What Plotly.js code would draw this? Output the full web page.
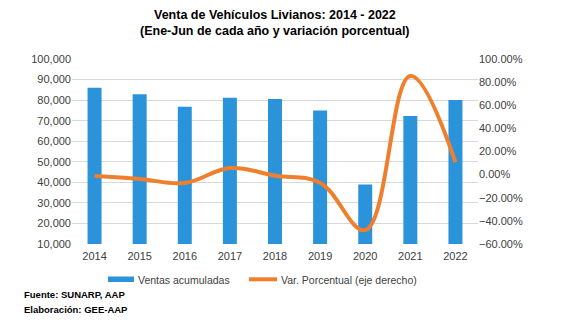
<!DOCTYPE html>
<html><head><meta charset="utf-8">
<script src="https://cdn.plot.ly/plotly-3.0.1.min.js"></script>
<style>html,body{margin:0;padding:0;background:#fff}#c{width:567px;height:325px}</style>
</head><body><div id="c"></div>
<script>
const years = ['2014','2015','2016','2017','2018','2019','2020','2021','2022'];
const ventas = [86000, 82800, 76800, 81200, 80500, 74900, 39000, 72300, 80000];
const variacion = [-0.012, -0.037, -0.072, 0.057, -0.009, -0.070, -0.48, 0.853, 0.107];
const leftTicks = [10000,20000,30000,40000,50000,60000,70000,80000,90000,100000];
const seriesNames = ['Ventas acumuladas', 'Var. Porcentual (eje derecho)'];
const BLUE = '#2A93D9', ORANGE = '#F07F2D';

const FONT = 'Liberation Sans, Arial, sans-serif';
const H = 185; // plot height in px, used to place paper-space texts
const py = px => (244 - px) / H;       // pixel row -> paper y
const px = x => (x - 72) / 406;        // pixel col -> paper x

const data = [
  {type:'bar', x:years, y:ventas, name:seriesNames[0],
   marker:{color:BLUE, line:{width:0}}, width:0.31, yaxis:'y', showlegend:false},
  {type:'scatter', mode:'lines', x:years, y:variacion, name:seriesNames[1],
   line:{color:ORANGE, width:4, shape:'spline', smoothing:1.1}, yaxis:'y2', showlegend:false}
];
const layout = {
  width:567, height:325,
  margin:{l:72, r:89, t:59, b:81},
  paper_bgcolor:'#fff', plot_bgcolor:'#fff',
  font:{family:FONT, size:11, color:'#404040'},
  xaxis:{type:'category', showgrid:false, showline:false, ticks:'', ticklabelstandoff:4,
    tickfont:{size:11, color:'#404040'}},
  yaxis:{range:[10000,100000], tickvals:leftTicks, tickformat:',', showgrid:true, gridcolor:'#d9d9d9',
    zeroline:false, ticks:'', tickfont:{size:11, color:'#404040'}},
  yaxis2:{overlaying:'y', side:'right', range:[-0.6,1.0], dtick:0.2, tick0:-0.6, tickformat:'.2%',
    showgrid:false, zeroline:false, ticks:'', tickfont:{size:11, color:'#404040'}},
  showlegend:false,
  shapes:[
    {type:'rect', xref:'paper', yref:'paper', x0:px(108), x1:px(134), y0:py(282), y1:py(276.5),
     fillcolor:BLUE, line:{width:0}},
    {type:'line', xref:'paper', yref:'paper', x0:px(249), x1:px(277), y0:py(279.3), y1:py(279.3),
     line:{color:ORANGE, width:4}}
  ],
  annotations:[
    {text:'<b>Venta de Vehículos Livianos: 2014 - 2022</b>', xref:'paper', yref:'paper', x:px(275), y:py(15),
     xanchor:'center', yanchor:'middle', showarrow:false, font:{family:FONT, size:12.5, color:'#000'}},
    {text:'<b>(Ene-Jun de cada año y variación porcentual)</b>', xref:'paper', yref:'paper', x:px(275), y:py(31),
     xanchor:'center', yanchor:'middle', showarrow:false, font:{family:FONT, size:12.5, color:'#000'}},
    {text:seriesNames[0], xref:'paper', yref:'paper', x:px(136), y:py(279.5), xanchor:'left', yanchor:'middle',
     showarrow:false, font:{family:FONT, size:10.5, color:'#404040'}},
    {text:seriesNames[1], xref:'paper', yref:'paper', x:px(279), y:py(279.5), xanchor:'left', yanchor:'middle',
     showarrow:false, font:{family:FONT, size:10.5, color:'#404040'}},
    {text:'<b>Fuente: SUNARP, AAP</b>', xref:'paper', yref:'paper', x:px(22), y:py(294), xanchor:'left', yanchor:'middle',
     showarrow:false, font:{family:FONT, size:9.5, color:'#000'}},
    {text:'<b>Elaboración: GEE-AAP</b>', xref:'paper', yref:'paper', x:px(22), y:py(309), xanchor:'left', yanchor:'middle',
     showarrow:false, font:{family:FONT, size:9.5, color:'#000'}}
  ]
};
Plotly.newPlot('c', data, layout, {displayModeBar:false, staticPlot:true});
</script></body></html>
